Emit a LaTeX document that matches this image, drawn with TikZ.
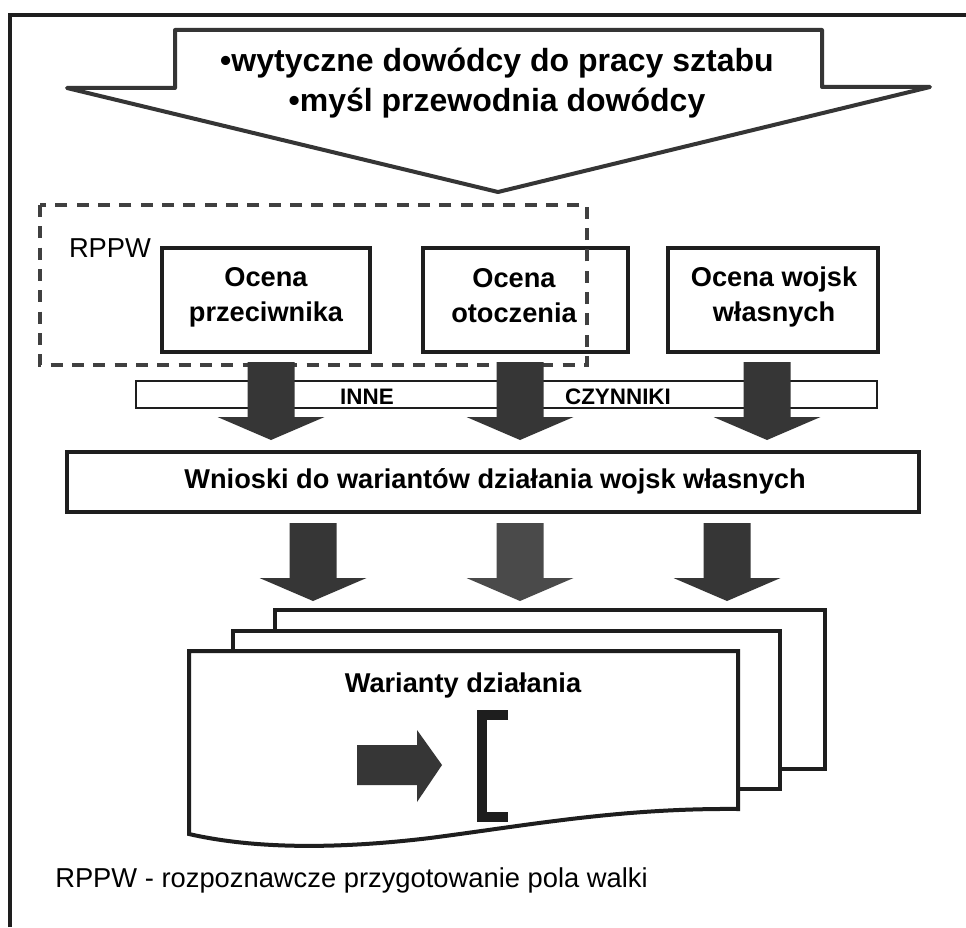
\documentclass[tikz,border=0pt]{standalone}
\usepackage{fontspec}
\setmainfont{Liberation Sans}
\usetikzlibrary{fit}
\definecolor{ink}{HTML}{1E1E1E}
\definecolor{arrowgray}{HTML}{363636}
\definecolor{arrowgraylt}{HTML}{4A4A4A}
\tikzset{
  boxframe/.style={draw=ink, line width=3.5pt, fill=white, inner sep=0pt},
  bandframe/.style={draw=ink, line width=1.5pt, fill=white, inner sep=0pt},
  pageframe/.style={draw=ink, line width=3pt, fill=white, line join=miter},
  dashframe/.style={draw=ink!85, line width=3pt, dash pattern=on 9pt off 7pt},
  boxtext/.style={font=\fontsize{20.4}{26}\selectfont\bfseries, align=center, inner sep=0pt},
  headtext/.style={font=\fontsize{24}{30}\selectfont\bfseries, inner sep=0pt},
  smalltext/.style={font=\fontsize{16.8}{20}\selectfont\bfseries, inner sep=0pt},
  plaintext/.style={font=\fontsize{20.5}{24}\selectfont, inner sep=0pt},
  fatdown/.pic={\fill[pic actions] (-23.5,0) -- (23.5,0) -- (23.5,55) -- (53.5,55) -- (0,78) -- (-53.5,55) -- (-23.5,55) -- cycle;}
}
\begin{document}
\begin{tikzpicture}[x=0.75pt,y=-0.75pt]
\useasboundingbox (0,0) rectangle (966,927);
\fill[white] (0,0) rectangle (966,927);
% outer frame
\draw[ink, line width=3pt] (10,927) -- (10,15) -- (966,15);
% big top arrow
\draw[ink!90, line width=3pt, fill=white, line join=round] (175,30) -- (822,30) -- (822,87) -- (930,87) -- (498,192) -- (67,88) -- (175,88) -- cycle;
\node[headtext] (t1) at (497,63) {•wytyczne dowódcy do pracy sztabu};
\node[headtext] (t2) at (497,103) {•myśl przewodnia dowódcy};
% assessment boxes
\node[boxframe, fit={(162,248) (370,352)}] (b1) {};
\node[boxframe, fit={(423,248) (628,352)}] (b2) {};
\node[boxframe, fit={(668,248) (878,352)}] (b3) {};
\node[boxtext] (b1t) at (266,297) {Ocena\\przeciwnika};
\node[boxtext] (b2t) at (514,295.5) {Ocena\\otoczenia};
\node[boxtext] (b3t) at (774,297) {Ocena wojsk\\własnych};
% RPPW dashed region
\draw[dashframe] (40,205) rectangle (587,365);
\node[plaintext] (rppw) at (110,248) {RPPW};
% band of other factors
\node[bandframe, fit={(136,381) (877,408)}] (band) {};
\node[smalltext] (inne) at (367,397) {INNE};
\node[smalltext] (czyn) at (618,397) {CZYNNIKI};
% first row of fat arrows
\pic[fill=arrowgray] (a1) at (271,362) {fatdown};
\pic[fill=arrowgray] (a2) at (520,362) {fatdown};
\pic[fill=arrowgray] (a3) at (767,362) {fatdown};
% conclusions box
\node[boxframe, fit={(67,452) (919,512)}] (wn) {};
\node[boxtext] (wnt) at (495,481) {Wnioski do wariantów działania wojsk własnych};
% second row of fat arrows
\pic[fill=arrowgray] (c1) at (313,523) {fatdown};
\pic[fill=arrowgraylt] (c2) at (520,523) {fatdown};
\pic[fill=arrowgray] (c3) at (727,523) {fatdown};
% stacked pages
\draw[pageframe] (275,610) rectangle (825,769);
\draw[pageframe] (233,631) rectangle (780,789);
\draw[pageframe] (189,651) -- (738,651) -- (738,809) .. controls (620,808) and (530,825) .. (430,838) .. controls (330,850) and (250,848) .. (189,834) -- cycle;
\node[boxtext] (war) at (463,685) {Warianty działania};
% arrow and bracket inside the front page
\fill[arrowgray] (357,745) -- (417,745) -- (417,730) -- (442,765) -- (417,802) -- (417,785) -- (357,785) -- cycle;
\draw[ink, line width=7.5pt, line join=miter] (508,715) -- (482,715) -- (482,817) -- (508,817);
% footnote
\node[plaintext, anchor=west] (foot) at (55,880) {RPPW - rozpoznawcze przygotowanie pola walki};
\end{tikzpicture}
\end{document}
